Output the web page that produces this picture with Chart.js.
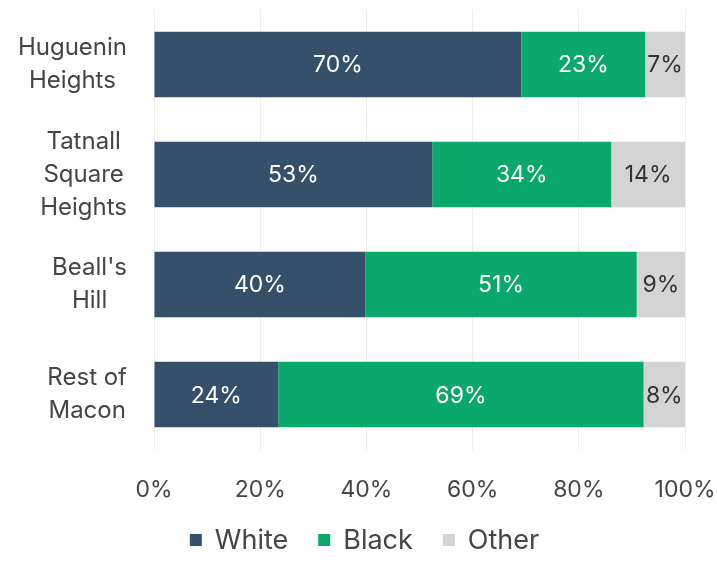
<!DOCTYPE html>
<html>
<head>
<meta charset="utf-8">
<script src="https://cdn.jsdelivr.net/npm/chart.js@4/dist/chart.umd.min.js"></script>
<style>
html,body{margin:0;padding:0;background:#fff;}
#wrap{width:717px;height:571px;position:relative;}
</style>
</head>
<body>
<div id="wrap"><canvas id="c"></canvas></div>
<script>
// Data
const categories = [["Huguenin","Heights"],["Tatnall","Square","Heights"],["Beall's","Hill"],["Rest of","Macon"]];
const whiteShare = [69.2, 52.4, 39.8, 23.4];
const blackShare = [23.3, 33.7, 51.1, 68.8];
const otherShare = [7.5, 13.9, 9.1, 7.8];
// Printed labels on the bars
const whiteLabels = ["70%", "53%", "40%", "24%"];
const blackLabels = ["23%", "34%", "51%", "69%"];
const otherLabels = ["7%", "14%", "9%", "8%"];
const xTicks = [0, 20, 40, 60, 80, 100];

const FONT = "Inter, 'Open Sans', sans-serif";
const TEXT = '#454545';

const barLabelPlugin = {
  id: 'barLabels',
  afterDatasetsDraw(chart) {
    const ctx = chart.ctx;
    ctx.save();
    ctx.font = "400 23px " + FONT;
    ctx.textAlign = 'center';
    ctx.textBaseline = 'middle';
    chart.data.datasets.forEach((ds, di) => {
      const meta = chart.getDatasetMeta(di);
      meta.data.forEach((bar, i) => {
        const x = (bar.x + bar.base) / 2;
        ctx.fillStyle = ds.labelColor;
        ctx.fillText(ds.printed[i], x, bar.y + 1);
      });
    });
    ctx.restore();
  }
};

// Category labels: block right-aligned next to the axis, lines centred within the block
const yLabelPlugin = {
  id: 'yLabels',
  afterDraw(chart) {
    const ctx = chart.ctx;
    const y = chart.scales.y;
    const lh = 33;
    ctx.save();
    ctx.font = "400 24px " + FONT;
    ctx.fillStyle = TEXT;
    ctx.textAlign = 'center';
    ctx.textBaseline = 'middle';
    chart.data.labels.forEach((lines, i) => {
      const cy = y.getPixelForTick(i);
      const widest = Math.max(...lines.map(l => ctx.measureText(l).width));
      const right = chart.chartArea.left - 27;
      const cx = right - widest / 2;
      const top = cy - (lines.length - 1) * lh / 2;
      lines.forEach((l, k) => ctx.fillText(l, cx, top + k * lh));
    });
    ctx.restore();
  }
};

// Legend drawn under the axis
const legendPlugin = {
  id: 'customLegend',
  afterDraw(chart) {
    const ctx = chart.ctx;
    const box = 12, gapText = 13, gapItem = 30;
    ctx.save();
    ctx.font = "400 27px " + FONT;
    ctx.textBaseline = 'middle';
    const items = chart.data.datasets.map(ds => ({ text: ds.label, color: ds.backgroundColor, w: ctx.measureText(ds.label).width }));
    const total = items.reduce((s, it) => s + box + gapText + it.w, 0) + gapItem * (items.length - 1);
    let x = chart.width / 2 + 6 - total / 2;
    const cy = 540;
    items.forEach(it => {
      ctx.fillStyle = it.color;
      ctx.fillRect(x, cy - box / 2, box, box);
      x += box + gapText;
      ctx.fillStyle = TEXT;
      ctx.fillText(it.text, x, cy + 1);
      x += it.w + gapItem;
    });
    ctx.restore();
  }
};

new Chart(document.getElementById('c'), {
  type: 'bar',
  data: {
    labels: categories,
    datasets: [
      { label: 'White', data: whiteShare, printed: whiteLabels, backgroundColor: '#34506a', labelColor: '#ffffff' },
      { label: 'Black', data: blackShare, printed: blackLabels, backgroundColor: '#0aa86a', labelColor: '#ffffff' },
      { label: 'Other', data: otherShare, printed: otherLabels, backgroundColor: '#d4d4d4', labelColor: '#333333' }
    ]
  },
  options: {
    indexAxis: 'y',
    responsive: true,
    maintainAspectRatio: false,
    animation: false,
    barPercentage: 0.595,
    categoryPercentage: 1,
    layout: { padding: { top: 9.5, right: 32, left: 0, bottom: 66.4 } },
    scales: {
      x: {
        stacked: true,
        min: 0, max: 100,
        afterBuildTicks(scale) { scale.ticks = xTicks.map(v => ({ value: v })); },
        afterFit(scale) { scale.paddingLeft = 0; scale.paddingRight = 0; scale.height = 55; },
        ticks: {
          callback: v => v + '%',
          color: TEXT,
          font: { family: FONT, size: 23 },
          padding: 27,
          maxRotation: 0
        },
        grid: { color: '#eeeeee', drawTicks: false },
        border: { display: false }
      },
      y: {
        stacked: true,
        afterFit(scale) { scale.width = 154; scale.paddingTop = 0; scale.paddingBottom = 0; },
        ticks: { display: false, autoSkip: false },
        grid: { display: false, drawTicks: false },
        border: { display: false }
      }
    },
    plugins: {
      legend: { display: false },
      tooltip: { enabled: false }
    }
  },
  plugins: [barLabelPlugin, yLabelPlugin, legendPlugin]
});
</script>
</body>
</html>
